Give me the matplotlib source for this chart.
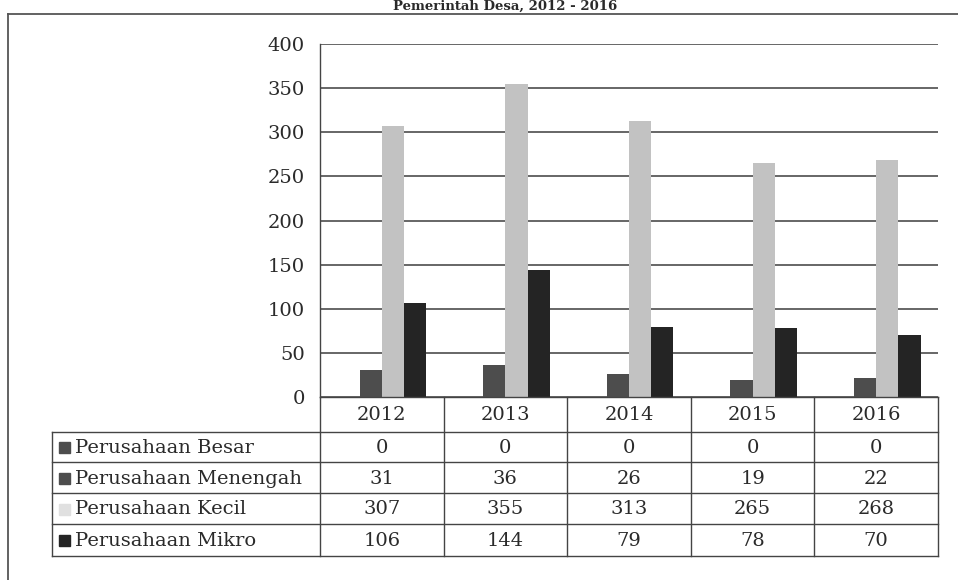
import numpy as np
import matplotlib.pyplot as plt
from matplotlib.patches import Rectangle

# Data (table values)
years = ["2012", "2013", "2014", "2015", "2016"]
series_names = ["Perusahaan Besar", "Perusahaan Menengah", "Perusahaan Kecil", "Perusahaan Mikro"]
besar = [0, 0, 0, 0, 0]
menengah = [31, 36, 26, 19, 22]
kecil = [307, 355, 313, 265, 268]
mikro = [106, 144, 79, 78, 70]
y_ticks = [0, 50, 100, 150, 200, 250, 300, 350, 400]
title = "Pemerintah Desa, 2012 - 2016"

colors = ["#4d4d4d", "#4d4d4d", "#c2c2c2", "#242424"]
values = [besar, menengah, kecil, mikro]

W, H = 958, 580
plt.rcParams['font.family'] = ['DejaVu Serif']
fig = plt.figure(figsize=(W / 100, H / 100), dpi=100)
txt_c = "#2a2a2a"
fs = 14

def fx(px):
    return px / W
def fy(py):
    return 1 - py / H

# plot area in pixels
x_left, x_right = 320, 938
y_top, y_bot = 44, 397
ax = fig.add_axes([fx(x_left), fy(y_bot), fx(x_right) - fx(x_left), fy(y_top) - fy(y_bot)])

n = len(years)
x = np.arange(n)
bw = 0.18
for k, (vals, c) in enumerate(zip(values, colors)):
    ax.bar(x + (k - 1.5) * bw, vals, width=bw, color=c, zorder=3)

ax.set_xlim(-0.5, n - 0.5)
ax.set_ylim(0, 400)
ax.set_yticks(y_ticks)
ax.set_yticklabels([str(t) for t in y_ticks], fontsize=fs, color=txt_c)
ax.set_xticks([])
ax.tick_params(axis='y', length=0, pad=11)
ax.grid(axis='y', color="#5a5a5a", lw=1.3, zorder=0)
for s in ["top", "right", "bottom"]:
    ax.spines[s].set_visible(False)
ax.spines["left"].set_color("#444444")
ax.spines["left"].set_linewidth(1.0)

# overlay in pixel coordinates for frame and data table
ov = fig.add_axes([0, 0, 1, 1], zorder=5)
ov.set_xlim(0, W)
ov.set_ylim(H, 0)
ov.axis("off")
ov.patch.set_alpha(0)

# frame lines of the scan (left and top only)
ov.plot([8, 8], [14, H], color="#555555", lw=1.3)
ov.plot([8, W], [14, 14], color="#555555", lw=1.3)

# title (only a thin strip above the frame)
fig.text(0.527, fy(6.5), title, ha="center", va="center", fontsize=9.5,
         fontweight="bold", color=txt_c)

# data table
lc = "#444444"
tab_left = 52
col_w = (x_right - x_left) / n
col_edges = [x_left + i * col_w for i in range(n + 1)]
row_edges = [397, 432, 462, 493, 524, 556]

# header row
ov.plot([x_left, x_right], [row_edges[0], row_edges[0]], color=lc, lw=1)
for xe in col_edges:
    ov.plot([xe, xe], [row_edges[0], row_edges[-1]], color=lc, lw=1)
for yr, xe in zip(years, col_edges[:-1]):
    ov.text(xe + col_w / 2, (row_edges[0] + row_edges[1]) / 2 + 1, yr,
            ha="center", va="center", fontsize=fs, color=txt_c)

for ye in row_edges[1:]:
    ov.plot([tab_left, x_right], [ye, ye], color=lc, lw=1)
ov.plot([tab_left, tab_left], [row_edges[1], row_edges[-1]], color=lc, lw=1)

for r, (name, vals, c) in enumerate(zip(series_names, values, colors)):
    yc = (row_edges[r + 1] + row_edges[r + 2]) / 2 + 1
    ov.add_patch(Rectangle((59, yc - 6), 11, 11, color=c if r != 2 else "#e0e0e0"))
    ov.text(75, yc, name, ha="left", va="center", fontsize=fs, color=txt_c)
    for v, xe in zip(vals, col_edges[:-1]):
        ov.text(xe + col_w / 2, yc, str(v), ha="center", va="center",
                fontsize=fs, color=txt_c)

fig.savefig("out.png", dpi=100)
